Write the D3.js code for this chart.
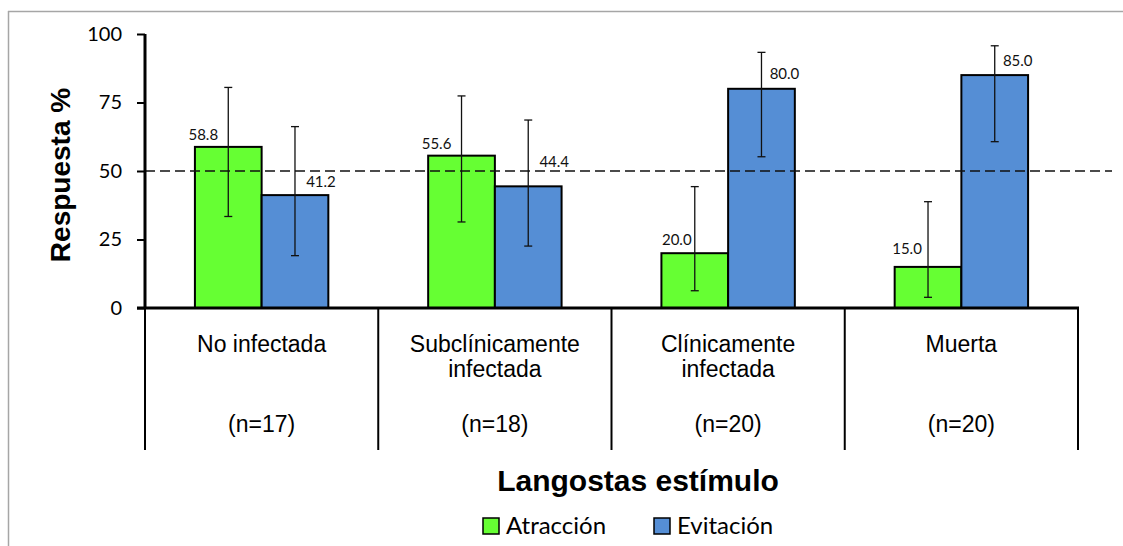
<!DOCTYPE html>
<html><head><meta charset="utf-8">
<script src="https://cdn.jsdelivr.net/npm/d3@7"></script>
<style>body{margin:0;background:#fff}svg{display:block}</style>
</head><body>
<script>
const categories = [["No infectada"], ["Subclínicamente", "infectada"], ["Clínicamente", "infectada"], ["Muerta"]];
const sampleSizes = ["(n=17)", "(n=18)", "(n=20)", "(n=20)"];
const seriesNames = ["Atracción", "Evitación"];
const seriesColors = ["#66ff33", "#558ed5"];
const atraccion = [58.8, 55.6, 20.0, 15.0];
const evitacion = [41.2, 44.4, 80.0, 85.0];
const atraccionLow = [33.4, 31.4, 6.3, 3.9];
const atraccionHigh = [80.5, 77.4, 44.3, 38.8];
const evitacionLow = [19.1, 22.6, 55.2, 60.7];
const evitacionHigh = [66.2, 68.6, 93.3, 95.7];
const yTicks = [0, 25, 50, 75, 100];
const refLine = 50;

// label placement (layout only, pixels)
const atrLabelDx = [-25, -25, -18, -21], atrLabelDy = [7, 7, 8, 13];
const eviLabelDx = [26, 26, 23, 23], eviLabelDy = [8, 19, 10, 9];

const W = 1123, H = 546;
const svg = d3.select("body").append("svg").attr("width", W).attr("height", H);
const SANS = "'Liberation Sans', Arial, sans-serif";
const CAL = "Lato, 'Open Sans', sans-serif";

// outer frame (top + left visible)
svg.append("line").attr("x1", 8).attr("x2", W).attr("y1", 11.5).attr("y2", 11.5).attr("stroke", "#a6a6a6").attr("stroke-width", 1.5);
svg.append("line").attr("x1", 8.5).attr("x2", 8.5).attr("y1", 11).attr("y2", H).attr("stroke", "#a6a6a6").attr("stroke-width", 1.5);

const x0 = 145, x1 = 1078, yTop = 34, yBot = 308;
const x = d3.scaleBand().domain(d3.range(categories.length)).range([x0, x1]).paddingInner(0).paddingOuter(0);
const y = d3.scaleLinear().domain([0, 100]).range([yBot, yTop]);
const barW = x.bandwidth() * 0.286;

const series = [
  {vals: atraccion, lo: atraccionLow, hi: atraccionHigh, off: -1, dx: atrLabelDx, dy: atrLabelDy},
  {vals: evitacion, lo: evitacionLow, hi: evitacionHigh, off: 0, dx: eviLabelDx, dy: eviLabelDy}
];

// bars
series.forEach((s, si) => {
  const g = svg.append("g");
  s.vals.forEach((v, i) => {
    const cx = x(i) + x.bandwidth() / 2;
    const bx = cx + s.off * barW;
    g.append("rect").attr("x", bx).attr("y", y(v)).attr("width", barW).attr("height", y(0) - y(v))
      .attr("fill", seriesColors[si]).attr("stroke", "#000").attr("stroke-width", 2);
  });
});

// reference dashed line
svg.append("line").attr("x1", x0).attr("x2", 1112).attr("y1", y(refLine)).attr("y2", y(refLine))
  .attr("stroke", "#111").attr("stroke-width", 1.5).attr("stroke-dasharray", "10,5");

// error bars and labels
series.forEach((s, si) => {
  s.vals.forEach((v, i) => {
    const cx = x(i) + x.bandwidth() / 2;
    const bc = cx + s.off * barW + barW / 2;
    const g = svg.append("g").attr("stroke", "#111").attr("stroke-width", 1.3);
    g.append("line").attr("x1", bc).attr("x2", bc).attr("y1", y(s.lo[i])).attr("y2", y(s.hi[i]));
    [s.lo[i], s.hi[i]].forEach(e => g.append("line").attr("x1", bc - 4).attr("x2", bc + 4).attr("y1", y(e)).attr("y2", y(e)));
    svg.append("text").attr("x", bc + s.dx[i]).attr("y", y(v) - s.dy[i])
      .attr("text-anchor", "middle").attr("font-family", CAL).attr("font-size", 15)
      .attr("fill", "#111").text(v.toFixed(1));
  });
});

// y axis
const yAxis = d3.axisLeft(y).tickValues(yTicks).tickSize(8).tickPadding(15).tickFormat(d3.format("d"));
const ya = svg.append("g").attr("transform", `translate(${x0},0)`).call(yAxis);
ya.select(".domain").attr("stroke-width", 3).attr("d", `M0,${yTop}V${yBot}`);
ya.selectAll(".tick line").attr("stroke-width", 2);
ya.selectAll("text").attr("font-family", CAL).attr("font-size", 20).attr("fill", "#000");

// x axis baseline and separators
svg.append("line").attr("x1", x0 - 8).attr("x2", x1 + 1).attr("y1", yBot).attr("y2", yBot).attr("stroke", "#000").attr("stroke-width", 3);
const seps = d3.range(categories.length + 1).map(i => i < categories.length ? x(i) : x1);
seps.forEach(sx => svg.append("line").attr("x1", sx).attr("x2", sx).attr("y1", yBot).attr("y2", 450).attr("stroke", "#000").attr("stroke-width", 2));

// category labels
categories.forEach((lines, i) => {
  const cx = x(i) + x.bandwidth() / 2;
  lines.forEach((t, li) => svg.append("text").attr("x", cx).attr("y", 352 + li * 25).attr("text-anchor", "middle")
    .attr("font-family", SANS).attr("font-size", 23).attr("fill", "#000").text(t));
  svg.append("text").attr("x", cx).attr("y", 432).attr("text-anchor", "middle")
    .attr("font-family", SANS).attr("font-size", 23).attr("fill", "#000").text(sampleSizes[i]);
});

// axis titles
svg.append("text").attr("transform", `translate(70,175) rotate(-90)`).attr("text-anchor", "middle")
  .attr("font-family", SANS).attr("font-weight", "bold").attr("font-size", 28).text("Respuesta %");
svg.append("text").attr("x", 638).attr("y", 491).attr("text-anchor", "middle")
  .attr("font-family", SANS).attr("font-weight", "bold").attr("font-size", 30).text("Langostas estímulo");

// legend
const legX = [483, 654];
seriesNames.forEach((n, i) => {
  svg.append("rect").attr("x", legX[i]).attr("y", 518).attr("width", 16).attr("height", 16)
    .attr("fill", seriesColors[i]).attr("stroke", "#000").attr("stroke-width", 1.5);
  svg.append("text").attr("x", legX[i] + 23).attr("y", 534).attr("font-family", CAL)
    .attr("font-size", 24).attr("fill", "#000").text(n);
});
</script>
</body></html>
